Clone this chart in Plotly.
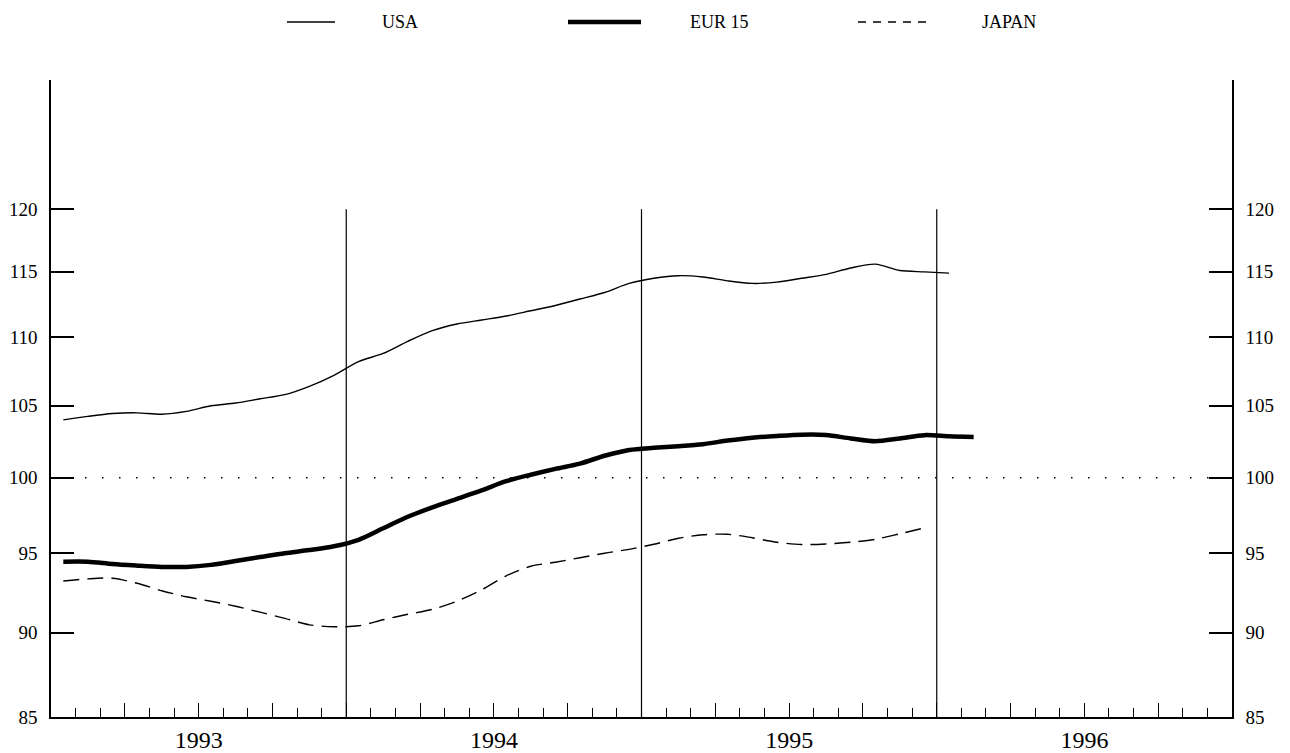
import math
import plotly.graph_objects as go

# ---- data (monthly index values, Jan 1993 onwards) ----
usa = [104.0, 104.25, 104.45, 104.5, 104.4, 104.6, 105.0, 105.2, 105.5, 105.8, 106.4, 107.2,
       108.2, 108.8, 109.7, 110.5, 111.0, 111.3, 111.6, 112.0, 112.4, 112.9, 113.4, 114.1,
       114.5, 114.7, 114.6, 114.3, 114.1, 114.2, 114.5, 114.8, 115.3, 115.6, 115.1, 115.0,
       114.9]
eur15 = [94.45, 94.45, 94.3, 94.2, 94.12, 94.12, 94.25, 94.5, 94.75, 95.0, 95.2, 95.45,
         95.87, 96.62, 97.38, 98.0, 98.57, 99.14, 99.76, 100.2, 100.6, 100.96, 101.5, 101.9,
         102.05, 102.16, 102.3, 102.55, 102.75, 102.87, 102.96, 102.94, 102.7, 102.5, 102.7, 102.93,
         102.85, 102.8]
japan = [93.22, 93.36, 93.4, 93.08, 92.61, 92.23, 91.95, 91.64, 91.27, 90.89, 90.49, 90.37,
         90.43, 90.8, 91.14, 91.45, 91.95, 92.67, 93.55, 94.16, 94.42, 94.71, 95.0, 95.25,
         95.58, 95.97, 96.2, 96.23, 96.0, 95.71, 95.56, 95.6, 95.71, 95.9, 96.26, 96.65]
years = ["1993", "1994", "1995", "1996"]
y_ticks = [85, 90, 95, 100, 105, 110, 115, 120]
names = ["USA", "EUR 15", "JAPAN"]

FONT = "Liberation Serif"

def mid(n):
    return [i + 0.5 for i in range(n)]

fig = go.Figure()
fig.add_trace(go.Scatter(x=mid(len(usa)), y=usa, mode="lines", name=names[0],
                         line=dict(color="black", width=1.4, shape="spline", smoothing=0.8),
                         showlegend=False))
fig.add_trace(go.Scatter(x=mid(len(eur15)), y=eur15, mode="lines", name=names[1],
                         line=dict(color="black", width=4.5, shape="spline", smoothing=0.8),
                         showlegend=False))
fig.add_trace(go.Scatter(x=mid(len(japan)), y=japan, mode="lines", name=names[2],
                         line=dict(color="black", width=1.4, dash="16px,8px", shape="spline", smoothing=0.8),
                         showlegend=False))
# invisible trace on right axis so it renders
fig.add_trace(go.Scatter(x=[0], y=[100], yaxis="y2", mode="lines", showlegend=False,
                         hoverinfo="skip", line=dict(color="rgba(0,0,0,0)")))

n_months = 12 * len(years)
quarter_vals = list(range(3, n_months, 3))
quarter_text = []
for q in quarter_vals:
    if q % 12 == 6:
        quarter_text.append(years[q // 12])
    else:
        quarter_text.append("")

yr = [math.log10(85), math.log10(131)]

# year separators and 100 reference line
shapes = []
for k in range(1, len(years)):
    shapes.append(dict(type="line", xref="x", yref="y", x0=12 * k, x1=12 * k, y0=85, y1=120,
                       line=dict(color="black", width=1.2)))
shapes.append(dict(type="line", xref="x", yref="y", x0=0, x1=n_months, y0=100, y1=100,
                   line=dict(color="black", width=1.5, dash="1.5px,15.5px")))

# manual legend (top)
L, R, T, B = 51, 58, 80, 36
W, H = 1290, 753
pw, ph = W - L - R, H - T - B

def px(xp):
    return (xp - L) / pw

def py(yp):
    return (H - B - yp) / ph

leg = [
    (287, 335, 380, dict(color="black", width=1.4)),
    (568, 641, 688, dict(color="black", width=4.5)),
    (858, 926, 980, dict(color="black", width=1.4, dash="8px,7px")),
]
annotations = []
for (x0, x1, tx, ln), nm in zip(leg, names):
    shapes.append(dict(type="line", xref="paper", yref="paper", x0=px(x0), x1=px(x1),
                       y0=py(22), y1=py(22), line=ln))
    annotations.append(dict(xref="paper", yref="paper", x=px(tx), y=py(22), text=nm,
                            showarrow=False, xanchor="left", yanchor="middle",
                            font=dict(family=FONT, size=18, color="black")))

fig.update_layout(
    width=W, height=H,
    margin=dict(l=L, r=R, t=T, b=B),
    paper_bgcolor="white", plot_bgcolor="white",
    shapes=shapes, annotations=annotations,
    xaxis=dict(range=[0, n_months], showgrid=False, zeroline=False,
               showline=True, linecolor="black", linewidth=1.5,
               ticks="inside", ticklen=14, tickwidth=1.3, tickcolor="black",
               tickvals=quarter_vals, ticktext=quarter_text,
               minor=dict(dtick=1, tick0=0, ticks="inside", ticklen=9, tickwidth=1.2, tickcolor="black"),
               tickfont=dict(family=FONT, size=24, color="black"), automargin=False),
    yaxis=dict(type="log", range=yr, showgrid=False, zeroline=False,
               showline=True, linecolor="black", linewidth=1.5,
               ticks="inside", ticklen=23, tickwidth=1.5, tickcolor="black",
               tickvals=y_ticks, ticktext=[str(v) for v in y_ticks], ticklabelstandoff=8,
               tickfont=dict(family=FONT, size=19, color="black"), automargin=False),
    yaxis2=dict(type="log", range=yr, overlaying="y", side="right", showgrid=False, zeroline=False,
                showline=True, linecolor="black", linewidth=1.5,
                ticks="inside", ticklen=23, tickwidth=1.5, tickcolor="black",
                tickvals=y_ticks, ticktext=[str(v) for v in y_ticks], ticklabelstandoff=8,
                tickfont=dict(family=FONT, size=19, color="black"), automargin=False),
)

fig.write_html("out.html", config={"displayModeBar": False},
               post_script="document.body.style.margin='0';document.body.style.padding='0';")
